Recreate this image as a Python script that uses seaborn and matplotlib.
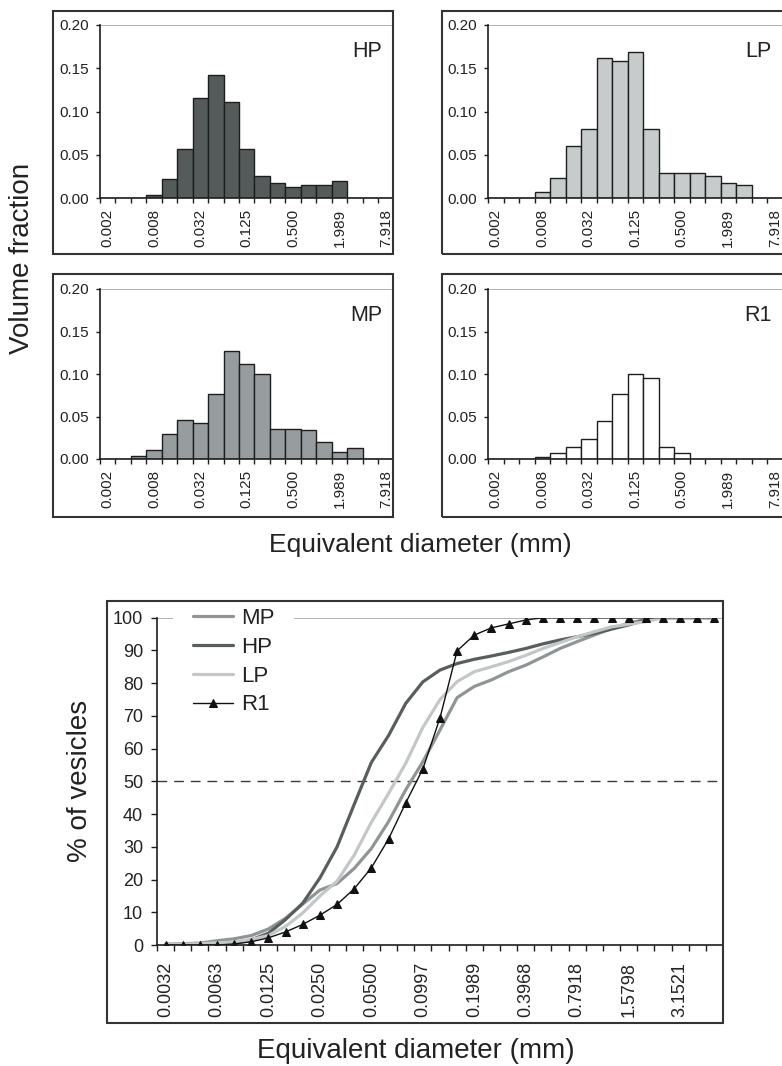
import numpy as np
import pandas as pd
import matplotlib
matplotlib.use("Agg")
import matplotlib.pyplot as plt
import seaborn as sns
from matplotlib.patches import Rectangle
from matplotlib.ticker import FixedLocator

# ---------------- data ----------------
bin_labels = ["0.002", "0.003", "0.005", "0.008", "0.013", "0.020", "0.032",
              "0.050", "0.079", "0.125", "0.198", "0.315", "0.500", "0.794",
              "1.260", "1.989", "3.150", "5.000", "7.918"]
hp_frac = [0, 0, 0, 0.004, 0.022, 0.057, 0.116, 0.142, 0.111, 0.057, 0.026,
           0.017, 0.013, 0.015, 0.015, 0.020, 0, 0, 0]
lp_frac = [0, 0, 0, 0.007, 0.023, 0.060, 0.080, 0.162, 0.158, 0.169, 0.080,
           0.029, 0.029, 0.029, 0.026, 0.017, 0.015, 0, 0]
mp_frac = [0, 0, 0.004, 0.011, 0.029, 0.046, 0.042, 0.076, 0.127, 0.112, 0.100,
           0.035, 0.035, 0.034, 0.020, 0.008, 0.013, 0, 0]
r1_frac = [0, 0, 0, 0.002, 0.007, 0.014, 0.023, 0.045, 0.076, 0.100, 0.095,
           0.014, 0.007, 0, 0, 0, 0, 0, 0]
frac_ticks = [0.00, 0.05, 0.10, 0.15, 0.20]

size_labels = ["0.0032", "0.0040", "0.0050", "0.0063", "0.0079", "0.0100",
               "0.0125", "0.0157", "0.0198", "0.0250", "0.0315", "0.0397",
               "0.0500", "0.0630", "0.0792", "0.0997", "0.1254", "0.1580",
               "0.1989", "0.2504", "0.3152", "0.3968", "0.4998", "0.6293",
               "0.7918", "0.9975", "1.2570", "1.5798", "1.9901", "2.5084",
               "3.1521", "3.9714", "5.0036"]
mp_cum = [0.3, 0.4, 0.6, 1.3, 1.9, 2.9, 4.9, 8.2, 12.5, 16.8, 18.8, 23.4, 29.5,
          37.7, 47.4, 56.0, 65.7, 75.6, 79.0, 81.0, 83.5, 85.5, 88.0, 90.6,
          92.7, 94.7, 96.7, 98.3, 99.5, 100, 100, 100, 100]
hp_cum = [0.1, 0.1, 0.2, 0.3, 0.5, 1.6, 3.6, 7.8, 12.8, 20.5, 30.0, 43.0, 55.8,
          64.0, 73.8, 80.4, 84.0, 86.0, 87.3, 88.3, 89.4, 90.6, 92.0, 93.2,
          94.2, 95.2, 96.5, 97.8, 99.3, 100, 100, 100, 100]
lp_cum = [0.2, 0.3, 0.4, 0.7, 0.9, 1.7, 2.9, 5.7, 9.8, 15.0, 19.5, 27.5, 37.5,
          46.3, 55.5, 66.5, 75.0, 80.5, 83.5, 85.0, 86.6, 88.5, 90.6, 92.4,
          94.2, 95.7, 97.2, 98.0, 98.8, 100, 100, 100, 100]
r1_cum = [0, 0, 0, 0, 0.3, 1.0, 2.2, 4.0, 6.3, 9.1, 12.4, 17.2, 23.6, 32.4,
          43.4, 53.8, 69.4, 89.9, 94.7, 96.9, 98.1, 99.3, 100, 100, 100, 100,
          100, 100, 100, 100, 100, 100, 100]
pct_ticks = [0, 10, 20, 30, 40, 50, 60, 70, 80, 90, 100]

# ---------------- style ----------------
sns.set_style("white")
plt.rcParams["font.family"] = ["Liberation Sans", "DejaVu Sans"]
TXT = "#222222"
plt.rcParams["text.color"] = TXT
plt.rcParams["xtick.color"] = TXT
plt.rcParams["ytick.color"] = TXT

W, H = 782, 1066
fig = plt.figure(figsize=(W / 100, H / 100), dpi=100)


def rect(l, t, r, b):
    return [l / W, 1 - b / H, (r - l) / W, (b - t) / H]


def frame(l, t, r, b):
    fig.add_artist(Rectangle((l / W, 1 - b / H), (r - l) / W, (b - t) / H,
                             transform=fig.transFigure, fill=False,
                             lw=1.5, ec="#333333", zorder=5))


def style_axes(ax):
    for s in ["top", "right"]:
        ax.spines[s].set_visible(False)
    for s in ["left", "bottom"]:
        ax.spines[s].set_color("#1e1e1e")
        ax.spines[s].set_linewidth(1.2)


def hist_panel(pos, vals, color, name):
    ax = fig.add_axes(rect(*pos))
    df = pd.DataFrame({"bin": bin_labels, "frac": vals})
    sns.barplot(data=df, x="bin", y="frac", order=bin_labels, width=1.0,
                color=color, saturation=1, edgecolor="#1e1e1e", linewidth=1.0,
                errorbar=None, ax=ax)
    n = len(bin_labels)
    ax.set_xlim(-0.5, n - 0.5)
    ax.set_ylim(0, 0.2)
    ax.axhline(0.2, color="#a3a7a7", lw=1.2, zorder=0)
    ax.set_yticks(frac_ticks)
    ax.set_yticklabels([f"{v:.2f}" for v in frac_ticks], fontsize=11)
    ax.set_xticks(range(0, n, 3))
    ax.set_xticklabels(bin_labels[::3], rotation=90, fontsize=11)
    ax.xaxis.set_minor_locator(FixedLocator(np.arange(-0.5, n - 0.6, 1.0)))
    ax.tick_params(axis="x", which="major", length=0, pad=8)
    ax.tick_params(axis="x", which="minor", length=3.5, width=1.0,
                   direction="out", bottom=True, color="#1e1e1e")
    ax.tick_params(axis="y", length=3, width=1.0, direction="out", pad=5,
                   left=True, color="#1e1e1e")
    ax.set_xlabel("")
    ax.set_ylabel("")
    style_axes(ax)
    ax.text(0.962, 0.845, name, transform=ax.transAxes, ha="right",
            va="center", fontsize=15.5)
    return ax


# ---------------- top histograms ----------------
hist_panel((100, 25, 393.5, 198), hp_frac, "#555b5a", "HP")
hist_panel((488, 25, 782.5, 198), lp_frac, "#c7cbcb", "LP")
hist_panel((100, 289, 393.5, 459), mp_frac, "#979d9e", "MP")
hist_panel((488, 289, 782.5, 459), r1_frac, "#ffffff", "R1")
frame(53, 11, 393, 254)
frame(442, 11, 800, 254)
frame(53, 274, 393, 517)
frame(442, 274, 800, 517)

fig.text(22 / W, 1 - 258 / H, "Volume fraction", rotation=90, ha="center",
         va="center", fontsize=20)
fig.text(420 / W, 1 - 552 / H, "Equivalent diameter (mm)", ha="center",
         va="baseline", fontsize=19)

# ---------------- bottom cumulative chart ----------------
ax = fig.add_axes(rect(157, 617.7, 723, 945))
pos = np.arange(len(size_labels))
cum = pd.DataFrame({"pos": pos, "MP": mp_cum, "HP": hp_cum, "LP": lp_cum,
                    "R1": r1_cum})
ax.axhline(100, color="#a3a7a7", lw=1.2, zorder=0)
ax.axhline(50, color="#3a3a3a", lw=1.0, dashes=(7, 5), zorder=1)
sns.lineplot(data=cum, x="pos", y="MP", color="#8f9596", lw=2.3, label="MP",
             ax=ax)
sns.lineplot(data=cum, x="pos", y="HP", color="#585e5d", lw=2.3, label="HP",
             ax=ax)
sns.lineplot(data=cum, x="pos", y="LP", color="#c3c7c7", lw=2.3, label="LP",
             ax=ax)
sns.lineplot(data=cum, x="pos", y="R1", color="#111111", lw=1.0, marker="^",
             markersize=6, markeredgecolor="#111111", label="R1", ax=ax)
n = len(size_labels)
ax.set_xlim(-0.5, n - 0.5)
ax.set_ylim(0, 100)
ax.set_yticks(pct_ticks)
ax.set_yticklabels([str(v) for v in pct_ticks], fontsize=13)
ax.set_xticks(range(0, n, 3))
ax.set_xticklabels(size_labels[::3], rotation=90, fontsize=13)
ax.xaxis.set_minor_locator(FixedLocator(np.arange(-0.5, n - 0.6, 1.0)))
ax.tick_params(axis="x", which="major", length=0, pad=12)
ax.tick_params(axis="x", which="minor", length=4, width=1.0, direction="out",
               bottom=True, color="#1e1e1e")
ax.tick_params(axis="y", length=4, width=1.0, direction="out", pad=6,
               left=True, color="#1e1e1e")
ax.set_xlabel("")
ax.set_ylabel("")
style_axes(ax)
leg = ax.legend(loc="upper left", bbox_to_anchor=(173 / W, 1 - 588 / H),
                bbox_transform=fig.transFigure, frameon=True,
                facecolor="white", edgecolor="none", framealpha=1,
                fontsize=16, handlelength=1.8, handletextpad=0.35,
                labelspacing=0.35, borderpad=0.9, borderaxespad=0)
frame(107, 601, 723, 1023)

fig.text(80 / W, 1 - 781 / H, "% of vesicles", rotation=90, ha="center",
         va="center", fontsize=20)
fig.text(416 / W, 1 - 1058 / H, "Equivalent diameter (mm)", ha="center",
         va="baseline", fontsize=20)

fig.savefig("out.png", dpi=100)
